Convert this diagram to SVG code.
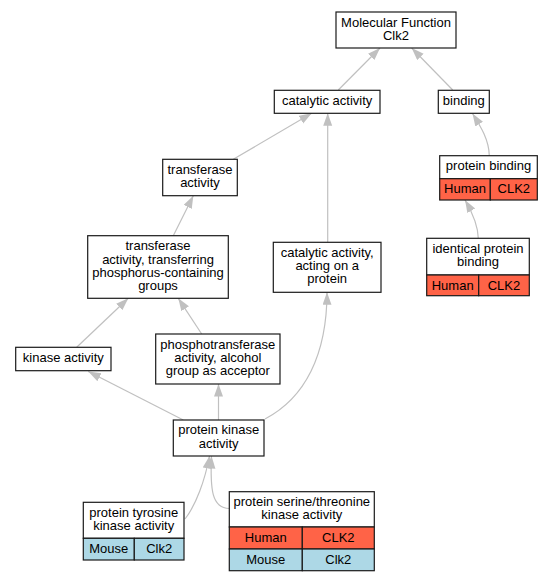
<svg xmlns="http://www.w3.org/2000/svg" width="552" height="581" viewBox="0 0 552 581">
<defs>
<style>
.n rect{fill:#fff;stroke:#1a1a1a;stroke-width:1.2}
.n rect.h{fill:#ff6347}
.n rect.m{fill:#add8e6}
text{font-family:"Liberation Sans",Arial,sans-serif;font-size:13px;text-anchor:middle;fill:#000}
.e path{fill:none;stroke:#c0c0c0;stroke-width:1.2;marker-end:url(#ah)}
</style>
<marker id="ah" markerUnits="userSpaceOnUse" markerWidth="13" markerHeight="10" refX="12.5" refY="4.5" orient="auto">
<path d="M0,0 L12.5,4.5 L0,9 z" fill="#c0c0c0"/>
</marker>
</defs>
<rect width="552" height="581" fill="#fff"/>
<g id="edges" class="e">
<path d="M338.3,90 L380,48"/>
<path d="M452.7,90 L411.7,48"/>
<path d="M489.3,155.7 C489,140 481,127 472.5,113.5"/>
<path d="M478.3,238.3 C478,225 472,212 465,200"/>
<path d="M327.7,242.3 L327.7,113.3"/>
<path d="M233.3,159.3 L311.7,113.3"/>
<path d="M173.3,235.7 L193.3,195.7"/>
<path d="M76.7,347.3 L128.3,298.3"/>
<path d="M201.7,334 L178.3,298.3"/>
<path d="M183.3,420 L88.3,371.5"/>
<path d="M218.5,420 L218.5,384"/>
<path d="M265,419 C305,398 327,355 327,292.3"/>
<path d="M185,519 C196,505 205,480 209.5,456"/>
<path d="M229.3,508.5 C212,508 210,490 211.5,456"/>
</g>
<g id="n_mf" class="n">
<rect x="336" y="12" width="120" height="36"/>
<text x="396" y="26.5">Molecular Function</text>
<text x="396" y="39.5">Clk2</text>
</g>
<g id="n_catalytic" class="n">
<rect x="274.3" y="90.3" width="105.7" height="23"/>
<text x="327.2" y="105">catalytic activity</text>
</g>
<g id="n_binding" class="n">
<rect x="438.3" y="90.3" width="51" height="23"/>
<text x="463.8" y="105">binding</text>
</g>
<g id="n_protein_binding" class="n">
<rect x="439.7" y="155.7" width="97.6" height="23"/>
<rect class="h" x="439.7" y="178.7" width="50.6" height="21.3"/>
<rect class="h" x="490.3" y="178.7" width="47" height="21.3"/>
<text x="488.5" y="170.3">protein binding</text>
<text x="465" y="193">Human</text>
<text x="513.8" y="193">CLK2</text>
</g>
<g id="n_identical" class="n">
<rect x="426.7" y="238.3" width="102.6" height="36.7"/>
<rect class="h" x="426.7" y="275" width="52" height="20.7"/>
<rect class="h" x="478.7" y="275" width="50.6" height="20.7"/>
<text x="478" y="253">identical protein</text>
<text x="478" y="266.3">binding</text>
<text x="452.7" y="289.5">Human</text>
<text x="504" y="289.5">CLK2</text>
</g>
<g id="n_acting" class="n">
<rect x="273.3" y="242.3" width="107.7" height="50"/>
<text x="327.2" y="256.8">catalytic activity,</text>
<text x="327.2" y="270.1">acting on a</text>
<text x="327.2" y="283.4">protein</text>
</g>
<g id="n_transferase" class="n">
<rect x="162.7" y="159.3" width="74.6" height="36.4"/>
<text x="200" y="173.8">transferase</text>
<text x="200" y="187.1">activity</text>
</g>
<g id="n_transferring" class="n">
<rect x="87.7" y="235.7" width="140.6" height="62.6"/>
<text x="158" y="250.4">transferase</text>
<text x="158" y="263.7">activity, transferring</text>
<text x="158" y="277">phosphorus-containing</text>
<text x="158" y="290.3">groups</text>
</g>
<g id="n_kinase" class="n">
<rect x="15.7" y="347.3" width="95.3" height="23.4"/>
<text x="63.3" y="362.3">kinase activity</text>
</g>
<g id="n_phospho" class="n">
<rect x="155.7" y="334" width="124.3" height="50"/>
<text x="217.8" y="348.5">phosphotransferase</text>
<text x="217.8" y="361.8">activity, alcohol</text>
<text x="217.8" y="375.1">group as acceptor</text>
</g>
<g id="n_pk" class="n">
<rect x="173.3" y="420" width="90.7" height="36"/>
<text x="218.7" y="434.3">protein kinase</text>
<text x="218.7" y="447.6">activity</text>
</g>
<g id="n_tyrosine" class="n">
<rect x="83.3" y="502.3" width="100.7" height="36"/>
<rect class="m" x="83.3" y="538.3" width="51" height="21.7"/>
<rect class="m" x="134.3" y="538.3" width="49.7" height="21.7"/>
<text x="133.7" y="516.7">protein tyrosine</text>
<text x="133.7" y="530">kinase activity</text>
<text x="108.8" y="553">Mouse</text>
<text x="159.2" y="553">Clk2</text>
</g>
<g id="n_serine" class="n">
<rect x="229.3" y="491.7" width="145" height="35.3"/>
<rect class="h" x="229.3" y="527" width="73" height="22"/>
<rect class="h" x="302.3" y="527" width="72" height="22"/>
<rect class="m" x="229.3" y="549" width="73" height="21.7"/>
<rect class="m" x="302.3" y="549" width="72" height="21.7"/>
<text x="301.8" y="505.7">protein serine/threonine</text>
<text x="301.8" y="519">kinase activity</text>
<text x="265.8" y="542">Human</text>
<text x="338.3" y="542">CLK2</text>
<text x="265.8" y="564">Mouse</text>
<text x="338.3" y="564">Clk2</text>
</g>
</svg>
